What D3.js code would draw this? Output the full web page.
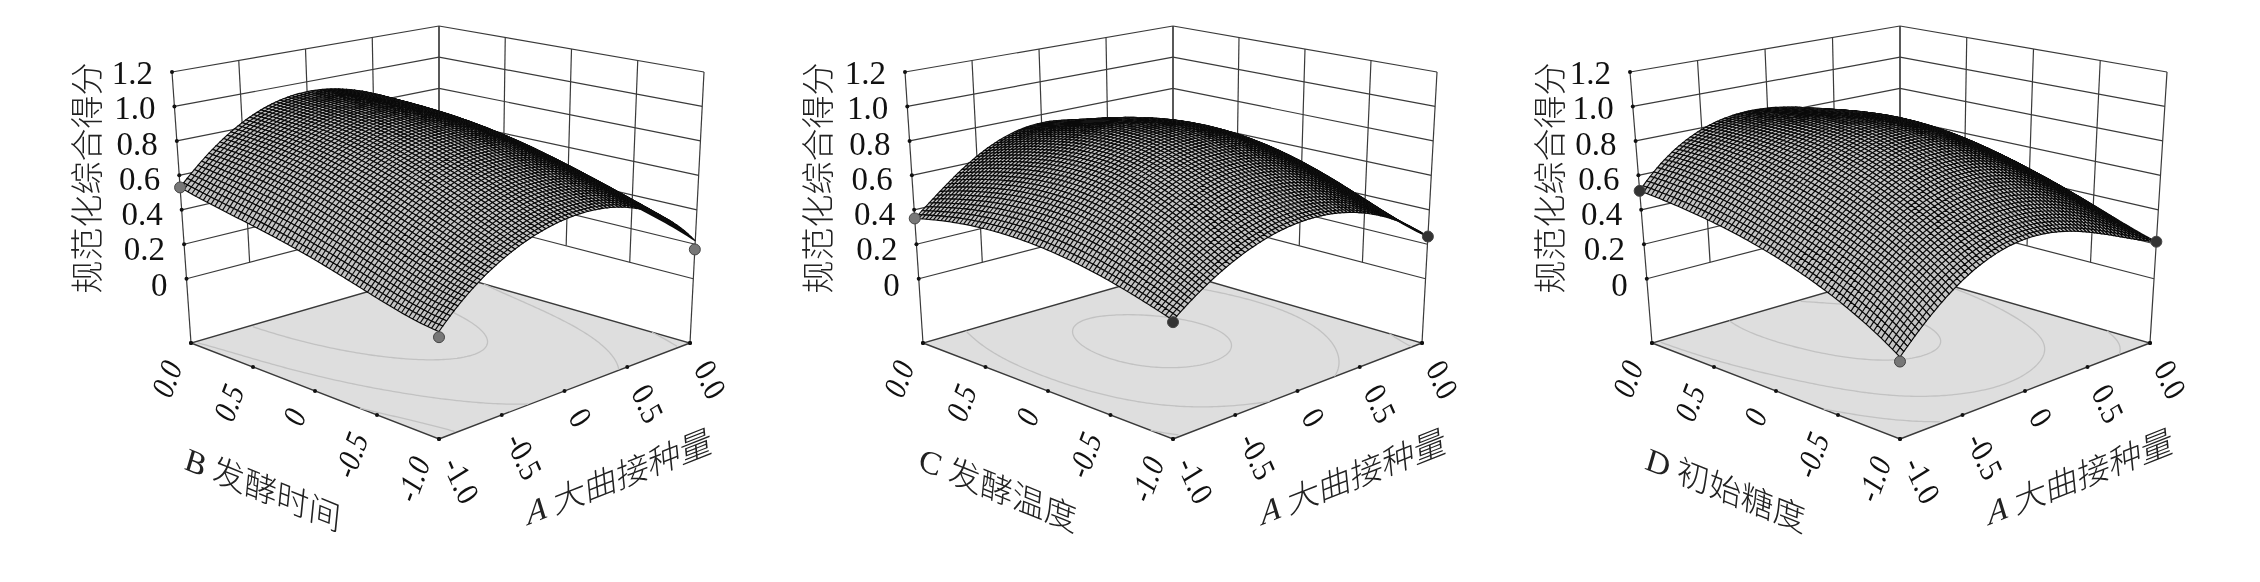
<!DOCTYPE html>
<html><head><meta charset="utf-8">
<style>html,body{margin:0;background:#fff}svg{display:block;filter:blur(.45px)}</style>
<script src="https://cdn.jsdelivr.net/npm/d3@7"></script></head><body>
<svg id="c" width="2260" height="582"></svg>
<script>
// ---- values ----
const zTicks=[0,0.2,0.4,0.6,0.8,1.0,1.2];
const zTickLabels=["0","0.2","0.4","0.6","0.8","1.0","1.2"];
const axisNodes=[-1,-0.5,0,0.5,1];
const axisTickLabels=["-1.0","-0.5","0","0.5","0.0"];
const zFloor=-0.373, zTop=1.2;
const zAxisTitle="规范化综合得分";
const rightLetter="A", rightName="大曲接种量";
const factorLetters=["B","C","D"];
const factorNames=["发酵时间","发酵温度","初始糖度"];
// heights at tick crossings: rows = second factor -1..1, columns = A -1..1
const heightsB=[[.20,.48,.59,.53,.22],[.27,.60,.74,.66,.34],[.37,.72,.86,.77,.43],[.45,.80,.92,.83,.52],[.53,.83,.94,.85,.62]];
const heightsC=[[.26,.48,.57,.50,.245],[.36,.66,.76,.665,.365],[.42,.76,.88,.78,.47],[.42,.74,.86,.76,.48],[.35,.63,.75,.65,.47]];
const heightsD=[[.064,.37,.48,.39,.215],[.26,.58,.70,.61,.34],[.39,.72,.86,.75,.46],[.47,.79,.89,.79,.53],[.51,.79,.84,.74,.56]];
const contourLevelsB=[.82,.55,.30];
const contourLevelsC=[.82,.55,.30];
const contourLevelsD=[.82,.55,.30];
// measured runs: [A, factor, z, fill]
const runsB=[[0,0,.88,"#666"],[-1,-1,.17,"#777"],[-1,1,.53,"#777"],[1,-1,.17,"#777"]];
const runsC=[[0,0,.88,"#555"],[0,0,.91,"#555"],[-1,-1,.25,"#333"],[-1,1,.35,"#777"],[1,-1,.245,"#333"]];
const runsD=[[0,0,.88,"#555"],[-1,-1,.04,"#777"],[-1,1,.51,"#333"],[1,-1,.215,"#333"]];
// frame of each panel in the page
const frames=[
 {backX:439,topL:172,topR:704,floorL:191,floorR:690,titleX:87},
 {backX:1173,topL:905,topR:1437,floorL:923,floorR:1422,titleX:818},
 {backX:1900,topL:1630,topR:2167,floorL:1652,floorR:2150,titleX:1550}];
const yTopBack=26,yTopSide=72,yTopFront=144,yFloorBack=271,yFloorSide=343,yFloorFront=439;
const meshCells=68;

const heights=[heightsB,heightsC,heightsD];
const levels=[contourLevelsB,contourLevelsC,contourLevelsD];
const runs=[runsB,runsC,runsD];

const unit=d3.scaleLinear().domain([-1,1]).range([0,1]);
const unitZ=d3.scaleLinear().domain([zFloor,zTop]).range([0,1]);

function camera(f){
 // corners: index by (u,v): front (0,0), right (1,0), left (0,1), back (1,1)
 const floor=[[f.backX,yFloorFront],[f.floorR,yFloorSide],[f.floorL,yFloorSide],[f.backX,yFloorBack]];
 const top=[[f.backX,yTopFront],[f.topR,yTopSide],[f.topL,yTopSide],[f.backX,yTopBack]];
 const bil=(c,u,v,k)=>(1-u)*(1-v)*c[0][k]+u*(1-v)*c[1][k]+(1-u)*v*c[2][k]+u*v*c[3][k];
 return (u,v,w)=>[0,1].map(k=>(1-w)*bil(floor,u,v,k)+w*bil(top,u,v,k));
}
function basis(t,i){let r=1;axisNodes.forEach((n,k)=>{if(k!==i)r*=(t-n)/(axisNodes[i]-n);});return r;}
function surface(tbl){return (a,f)=>{let z=0;
 for(let r=0;r<5;r++){const br=basis(f,r);for(let c=0;c<5;c++)z+=tbl[r][c]*br*basis(a,c);}return z;};}

const svg=d3.select("#c");
const line=d3.line();
const latin="'Liberation Serif',serif",cjk="'Noto Sans CJK SC',sans-serif";
const ink="#3a3a3a";

frames.forEach((f,pi)=>{
 const g=svg.append("g"),P=camera(f),Z=surface(heights[pi]);
 const at=(a,b,z)=>P(unit(a),unit(b),unitZ(z));
 // walls
 const wall=g.append("g").attr("fill","none").attr("stroke",ink).attr("stroke-width",1.2);
 const seg=(p,q)=>wall.append("path").attr("d",line([p,q]));
 zTicks.forEach(z=>{seg(at(-1,1,z),at(1,1,z));seg(at(1,-1,z),at(1,1,z));});
 axisNodes.forEach(t=>{
  const lo=(t===-1||t===1)?zFloor:0;
  seg(at(t,1,lo),at(t,1,zTop));
  seg(at(1,t,lo),at(1,t,zTop));
 });
 // floor
 const floorPts=[at(-1,-1,zFloor),at(1,-1,zFloor),at(1,1,zFloor),at(-1,1,zFloor)];
 g.append("path").attr("d",line(floorPts)+"Z").attr("fill","#dedede").attr("stroke",ink).attr("stroke-width",1.4);
 // contours
 const nC=101,gridT=d3.scaleLinear().domain([0,nC-1]).range([-1,1]);
 const vals=new Float64Array(nC*nC);
 for(let j=0;j<nC;j++)for(let i=0;i<nC;i++)vals[j*nC+i]=Z(gridT(i),gridT(j));
 const cs=d3.contours().size([nC,nC]).thresholds(levels[pi])(Array.from(vals));
 const cg=g.append("g").attr("fill","none").attr("stroke","#c2c2c2").attr("stroke-width",1.3);
 cs.forEach(mp=>mp.coordinates.forEach(poly=>poly.forEach(ring=>{
  let run=[];
  const flush=()=>{if(run.length>1)cg.append("path").attr("d",line(run));run=[];};
  ring.forEach(([x,y])=>{
   if(x<=0.5||y<=0.5||x>=nC-.5||y>=nC-.5){flush();return;}
   run.push(at(gridT(x-.5),gridT(y-.5),zFloor));
  });flush();
 })));
 // dots under the mesh
 const dot=(r)=>{const p=at(r[0],r[1],r[2]);g.append("circle").attr("cx",p[0]).attr("cy",p[1]).attr("r",5.5).attr("fill",r[3]).attr("stroke","#444").attr("stroke-width",1);};
 runs[pi].filter(r=>r[0]===0).forEach(dot);
 // mesh, farthest row of cells first
 const meshT=d3.scaleLinear().domain([0,meshCells]).range([-1,1]);
 const rows=[];
 for(let i=meshCells-1;i>=0;i--){let d="";
  for(let j=meshCells-1;j>=0;j--){
   const a0=meshT(i),a1=meshT(i+1),b0=meshT(j),b1=meshT(j+1);
   d+=line([at(a0,b0,Z(a0,b0)),at(a1,b0,Z(a1,b0)),at(a1,b1,Z(a1,b1)),at(a0,b1,Z(a0,b1))])+"Z";
  }
  rows.push(d);
 }
 g.append("g").selectAll("path").data(rows).join("path")
  .attr("d",d=>d).attr("fill","#c4c4c4").attr("stroke","#0a0a0a").attr("stroke-width",1.15);
 runs[pi].filter(r=>r[0]!==0).forEach(dot);
 // tick dots
 const tick=(p)=>g.append("circle").attr("cx",p[0]).attr("cy",p[1]).attr("r",2).attr("fill","#111");
 zTicks.forEach(z=>tick(at(-1,1,z)));
 axisNodes.forEach(t=>{tick(at(t,-1,zFloor));tick(at(-1,t,zFloor));});
 tick(at(1,-1,zFloor));tick(at(-1,1,zFloor));
 // z labels
 zTicks.forEach((z,i)=>{const p=at(-1,1,z);
  g.append("text").attr("x",p[0]-19).attr("y",p[1]+12+(zTop-z)*4).attr("text-anchor","end")
   .attr("font-family",latin).attr("font-size",33).attr("fill","#111").text(zTickLabels[i]);});
 g.append("text").attr("transform",`translate(${f.titleX},178) rotate(-90)`).attr("text-anchor","middle").attr("dy","0.36em")
  .attr("font-family",cjk).attr("font-weight",300).attr("font-size",33).attr("fill","#222").text(zAxisTitle);
 // floor labels
 axisNodes.forEach((t,i)=>{
  const pL=at(-1,t,zFloor),pR=at(t,-1,zFloor);
  g.append("text").attr("transform",`matrix(.3,-.8,.85,.52,${pL[0]-18},${pL[1]+19})`)
   .attr("text-anchor","end").attr("dy","0.34em").attr("font-family",latin).attr("font-size",33).attr("fill","#111").text(axisTickLabels[i]);
  g.append("text").attr("transform",`matrix(.36,.8,-.85,.52,${pR[0]+13},${pR[1]+20})`)
   .attr("text-anchor","start").attr("dy","0.34em").attr("font-family",latin).attr("font-size",33).attr("fill","#111").text(axisTickLabels[i]);
 });
 // axis titles
 const tL=g.append("text").attr("transform",`matrix(.97,.39,-.1,1,${f.backX-255},469)`).attr("font-size",33).attr("fill","#222").attr("font-family",cjk).attr("font-weight",300);
 tL.append("tspan").attr("font-family",latin).attr("font-style","italic").attr("font-weight",400).text(factorLetters[pi]+" ");
 tL.append("tspan").text(factorNames[pi]);
 const tR=g.append("text").attr("transform",`matrix(.96,-.38,.1,1,${f.backX+89},525)`).attr("font-size",33).attr("fill","#222").attr("font-family",cjk).attr("font-weight",300);
 tR.append("tspan").attr("font-family",latin).attr("font-style","italic").attr("font-weight",400).text(rightLetter+" ");
 tR.append("tspan").text(rightName);
});
</script></body></html>
